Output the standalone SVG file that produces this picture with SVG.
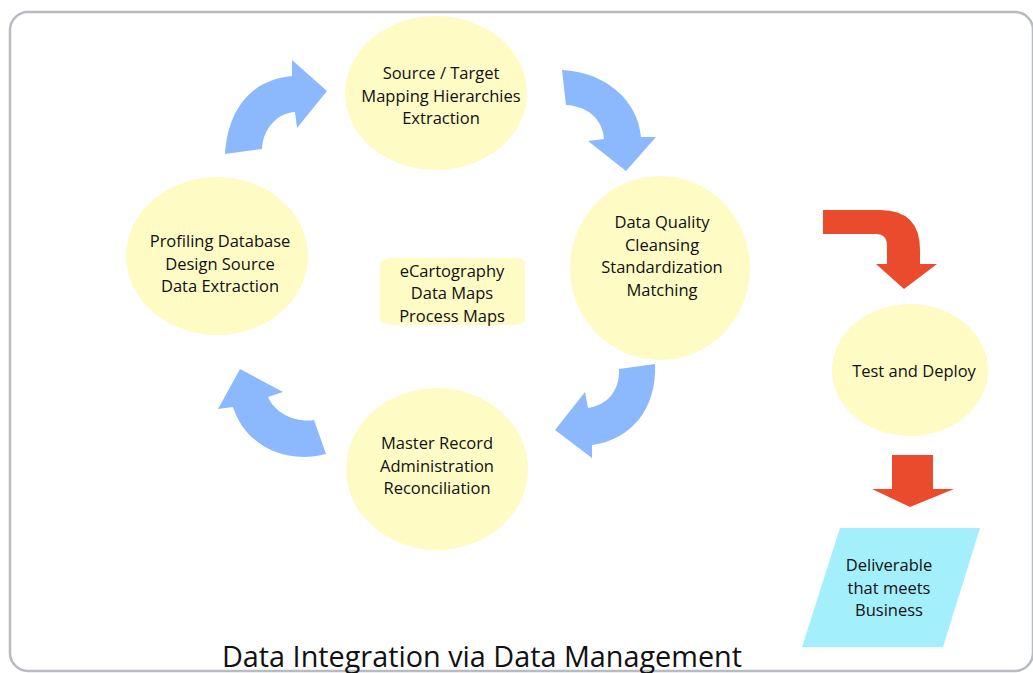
<svg xmlns="http://www.w3.org/2000/svg" width="1033" height="673" viewBox="0 0 1033 673">
<style>
.node{fill:#fefbc5}
.lbl{font-family:"Open Sans","Liberation Sans",sans-serif;font-size:16.5px;fill:#111111;text-anchor:middle}
.blue{fill:#8cb9fd}
.red{fill:#ea4b2c}
.title{font-family:"Open Sans","Liberation Sans",sans-serif;font-size:28.8px;fill:#111111;text-anchor:middle}
</style>
<rect width="1033" height="673" fill="#ffffff"/>
<rect x="10" y="12" width="1023" height="659" rx="18" ry="18" fill="#ffffff" stroke="#b8bcc2" stroke-width="2.5"/>
<g id="connectors">
<path class="blue" d="M225,154 C228,110 250,80 292,76 L292,60 L327,91 L297,128 L295,112 C278,113 263,128 262,149 Z"/>
<path class="blue" d="M562,70 C605,72 638,100 641,137 L656,137 L626,171 L588,141 L604,139 C603,120 588,106 566,105 Z"/>
<path class="blue" d="M655,364 C657,410 630,440 592,445 L592,458 L555,430 L585,392 L588,408 C608,405 620,390 619,369 Z"/>
<path class="blue" d="M326,454 C285,465 245,445 233,407 L218,409 L240,369 L283,392 L268,397 C275,413 295,423 314,420 Z"/>
<path class="red" d="M823,210 L880,210 Q920,210 920,250 L920,264 L937,264 L904,289 L876,264 L887,264 L887,246 Q887,234 876,234 L823,234 Z"/>
<path class="red" d="M892,455 L933,455 L933,489 L954,489 L910,507 L872,489 L892,489 Z"/>
</g>
<g id="node-source">
<ellipse class="node" cx="436" cy="93" rx="91" ry="77"/>
<text class="lbl" x="441" y="79">Source / Target</text>
<text class="lbl" x="441" y="102">Mapping Hierarchies</text>
<text class="lbl" x="441" y="124">Extraction</text>
</g>
<g id="node-quality">
<ellipse class="node" cx="660" cy="268" rx="90" ry="92"/>
<text class="lbl" x="662" y="228">Data Quality</text>
<text class="lbl" x="662" y="251">Cleansing</text>
<text class="lbl" x="662" y="273">Standardization</text>
<text class="lbl" x="662" y="296">Matching</text>
</g>
<g id="node-master">
<ellipse class="node" cx="437" cy="469" rx="91" ry="81"/>
<text class="lbl" x="437" y="449">Master Record</text>
<text class="lbl" x="437" y="472">Administration</text>
<text class="lbl" x="437" y="494">Reconciliation</text>
</g>
<g id="node-profiling">
<ellipse class="node" cx="217" cy="256" rx="91" ry="79"/>
<text class="lbl" x="220" y="247">Profiling Database</text>
<text class="lbl" x="220" y="270">Design Source</text>
<text class="lbl" x="220" y="292">Data Extraction</text>
</g>
<g id="node-ecartography">
<path class="node" d="M380,263 Q384,257 398,258 L510,258 Q525,258 525,263 L525,321 Q521,326 506,325 L398,325 Q384,325 380,321 Z"/>
<text class="lbl" x="452" y="277">eCartography</text>
<text class="lbl" x="452" y="299">Data Maps</text>
<text class="lbl" x="452" y="322">Process Maps</text>
</g>
<g id="node-test">
<ellipse class="node" cx="910" cy="370" rx="78" ry="66"/>
<text class="lbl" x="914" y="377">Test and Deploy</text>
</g>
<g id="node-deliverable">
<polygon points="840,528 980,528 943,647 802,647" fill="#a3effc"/>
<text class="lbl" x="889" y="571">Deliverable</text>
<text class="lbl" x="889" y="594">that meets</text>
<text class="lbl" x="889" y="616">Business</text>
</g>
<text class="title" x="482" y="667">Data Integration via Data Management</text>
</svg>
